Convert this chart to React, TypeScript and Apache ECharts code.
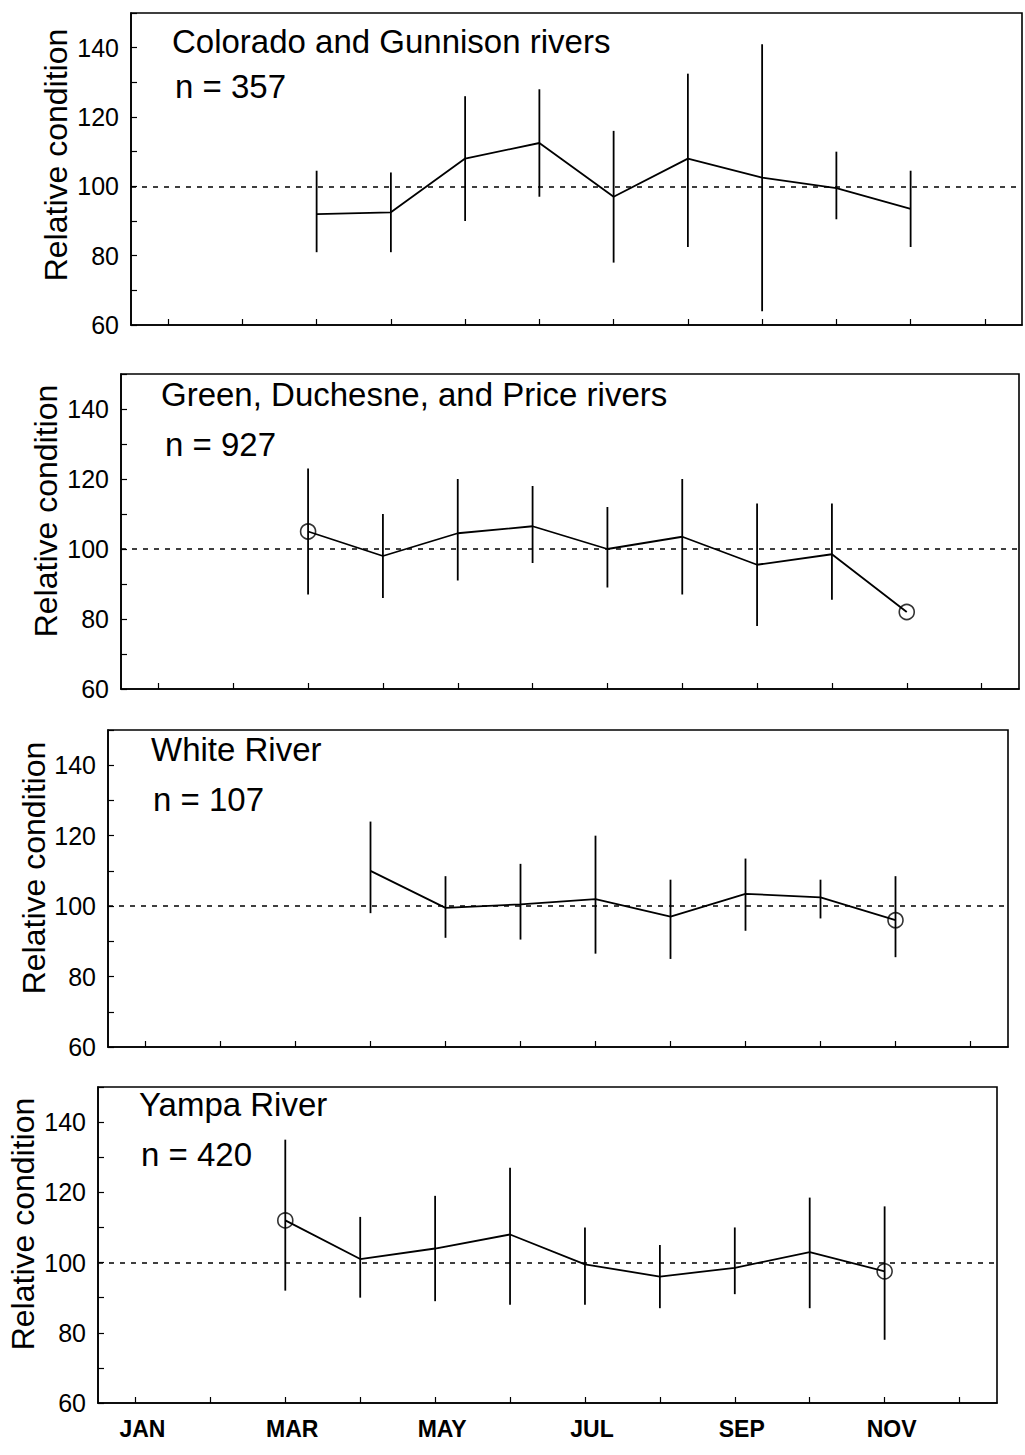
import React, { useEffect, useRef } from 'react';
import * as echarts from 'echarts';

const months = ['JAN', 'FEB', 'MAR', 'APR', 'MAY', 'JUN', 'JUL', 'AUG', 'SEP', 'OCT', 'NOV', 'DEC'];
const yTickLabels = [60, 80, 100, 120, 140];
const referenceLevel = 100;
const yAxisName = 'Relative condition';

const panelTitles = [
  'Colorado and Gunnison rivers',
  'Green, Duchesne, and Price rivers',
  'White River',
  'Yampa River',
];
const sampleSizes = [357, 927, 107, 420];

// Colorado and Gunnison rivers
const coloradoMonths = ['MAR', 'APR', 'MAY', 'JUN', 'JUL', 'AUG', 'SEP', 'OCT', 'NOV'];
const coloradoMean = [92, 92.5, 108, 112.5, 97, 108, 102.5, 99.5, 93.5];
const coloradoLow = [81, 81, 90, 97, 78, 82.5, 64, 90.5, 82.5];
const coloradoHigh = [104.5, 104, 126, 128, 116, 132.5, 141, 110, 104.5];
const coloradoCircles: string[] = [];

// Green, Duchesne, and Price rivers
const greenMonths = ['MAR', 'APR', 'MAY', 'JUN', 'JUL', 'AUG', 'SEP', 'OCT', 'NOV'];
const greenMean = [105, 98, 104.5, 106.5, 100, 103.5, 95.5, 98.5, 82];
const greenLow = [87, 86, 91, 96, 89, 87, 78, 85.5, null];
const greenHigh = [123, 110, 120, 118, 112, 120, 113, 113, null];
const greenCircles = ['MAR', 'NOV'];

// White River
const whiteMonths = ['APR', 'MAY', 'JUN', 'JUL', 'AUG', 'SEP', 'OCT', 'NOV'];
const whiteMean = [110, 99.5, 100.5, 102, 97, 103.5, 102.5, 96];
const whiteLow = [98, 91, 90.5, 86.5, 85, 93, 96.5, 85.5];
const whiteHigh = [124, 108.5, 112, 120, 107.5, 113.5, 107.5, 108.5];
const whiteCircles = ['NOV'];

// Yampa River
const yampaMonths = ['MAR', 'APR', 'MAY', 'JUN', 'JUL', 'AUG', 'SEP', 'OCT', 'NOV'];
const yampaMean = [112, 101, 104, 108, 99.5, 96, 98.5, 103, 97.5];
const yampaLow = [92, 90, 89, 88, 88, 87, 91, 87, 78];
const yampaHigh = [135, 113, 119, 127, 110, 105, 110, 118.5, 116];
const yampaCircles = ['MAR', 'NOV'];

const panels = [
  { m: coloradoMonths, mean: coloradoMean, lo: coloradoLow, hi: coloradoHigh, circles: coloradoCircles },
  { m: greenMonths, mean: greenMean, lo: greenLow, hi: greenHigh, circles: greenCircles },
  { m: whiteMonths, mean: whiteMean, lo: whiteLow, hi: whiteHigh, circles: whiteCircles },
  { m: yampaMonths, mean: yampaMean, lo: yampaLow, hi: yampaHigh, circles: yampaCircles },
];

// layout (pixels)
const gridBoxes = [
  { left: 131, top: 13, width: 891, height: 312 },
  { left: 121, top: 374, width: 898, height: 315 },
  { left: 108, top: 730, width: 900, height: 317 },
  { left: 98, top: 1087, width: 899, height: 316 },
];
const titlePos = [
  { x: 172, y: 58, nx: 175, ny: 103 },
  { x: 161, y: 411, nx: 165, ny: 461 },
  { x: 151, y: 766, nx: 153, ny: 816 },
  { x: 139, y: 1121, nx: 141, ny: 1171 },
];
const namePos = [
  { x: 56, y: 155 },
  { x: 46, y: 511 },
  { x: 34, y: 868 },
  { x: 23, y: 1224 },
];

const FONT = '"Liberation Sans", Arial, Helvetica, sans-serif';

export default function App() {
  const ref = useRef<HTMLDivElement>(null);

  useEffect(() => {
    if (!ref.current) return;
    const chart = echarts.init(ref.current, undefined, { renderer: 'svg' });

    const grid = gridBoxes.map((g) => ({
      ...g,
      show: true,
      borderColor: '#000',
      borderWidth: 1.6,
      backgroundColor: 'transparent',
    }));

    const xAxis = gridBoxes.map((_, i) => ({
      type: 'category',
      gridIndex: i,
      data: months,
      boundaryGap: true,
      axisLine: { show: true, lineStyle: { color: '#000', width: 1.6 } },
      axisTick: {
        show: true,
        inside: true,
        alignWithLabel: true,
        interval: 0,
        length: 6,
        lineStyle: { color: '#000', width: 1.2 },
      },
      axisLabel: {
        show: i === 3,
        interval: 1,
        fontSize: 23,
        fontWeight: 'bold',
        color: '#000',
        margin: 14,
        fontFamily: FONT,
        padding: [0, 0, 0, 14],
      },
      splitLine: { show: false },
    }));

    const yAxis = gridBoxes.map((_, i) => ({
      type: 'value',
      gridIndex: i,
      min: 60,
      max: 150,
      interval: 10,
      axisLine: { show: true, lineStyle: { color: '#000', width: 1.6 } },
      axisTick: { show: true, inside: true, length: 6, lineStyle: { color: '#000', width: 1.2 } },
      axisLabel: {
        formatter: (v: number) => (yTickLabels.includes(v) ? String(v) : ''),
        fontSize: 25,
        color: '#000',
        margin: 12,
        fontFamily: FONT,
      },
      splitLine: { show: false },
    }));

    const series: any[] = [];
    panels.forEach((p, i) => {
      series.push({
        type: 'line',
        xAxisIndex: i,
        yAxisIndex: i,
        data: p.m.map((mm, k) => [mm, p.mean[k]]),
        symbol: 'none',
        lineStyle: { color: '#000', width: 1.8 },
        z: 3,
        markLine: {
          silent: true,
          symbol: 'none',
          label: { show: false },
          lineStyle: { color: '#000', width: 1.7, type: [5, 6] },
          data: [{ yAxis: referenceLevel }],
        },
      });
      const bars = p.m
        .map((mm, k) => [months.indexOf(mm), p.lo[k], p.hi[k]])
        .filter((d) => d[1] != null && d[2] != null);
      series.push({
        type: 'custom',
        xAxisIndex: i,
        yAxisIndex: i,
        data: bars,
        encode: { x: 0, y: [1, 2] },
        renderItem: (params: any, api: any) => {
          const x = api.value(0);
          const a = api.coord([x, api.value(1)]);
          const b = api.coord([x, api.value(2)]);
          return {
            type: 'line',
            shape: { x1: a[0], y1: a[1], x2: b[0], y2: b[1] },
            style: { stroke: '#000', lineWidth: 1.8 },
          };
        },
        z: 2,
      });
      if (p.circles.length) {
        series.push({
          type: 'scatter',
          xAxisIndex: i,
          yAxisIndex: i,
          data: p.circles.map((mm) => [mm, p.mean[p.m.indexOf(mm)]]),
          symbol: 'circle',
          symbolSize: 15,
          itemStyle: { color: 'rgba(0,0,0,0)', borderColor: '#000', borderWidth: 1.6 },
          z: 4,
        });
      }
    });

    const graphic: any[] = [];
    panelTitles.forEach((t, i) => {
      graphic.push({
        type: 'text',
        x: titlePos[i].x,
        y: titlePos[i].y,
        style: { text: t, font: `33px ${FONT}`, fill: '#000', verticalAlign: 'bottom' },
      });
      graphic.push({
        type: 'text',
        x: titlePos[i].nx,
        y: titlePos[i].ny,
        style: { text: `n = ${sampleSizes[i]}`, font: `33px ${FONT}`, fill: '#000', verticalAlign: 'bottom' },
      });
      graphic.push({
        type: 'text',
        x: namePos[i].x,
        y: namePos[i].y,
        rotation: Math.PI / 2,
        style: {
          text: yAxisName,
          font: `32px ${FONT}`,
          fill: '#000',
          align: 'center',
          verticalAlign: 'middle',
        },
      });
    });

    chart.setOption({
      animation: false,
      backgroundColor: '#fff',
      grid,
      xAxis,
      yAxis,
      series,
      graphic,
    });

    return () => chart.dispose();
  }, []);

  return (
    <div
      ref={ref}
      style={{ position: 'absolute', left: 0, top: 0, width: 1025, height: 1455 }}
    />
  );
}
